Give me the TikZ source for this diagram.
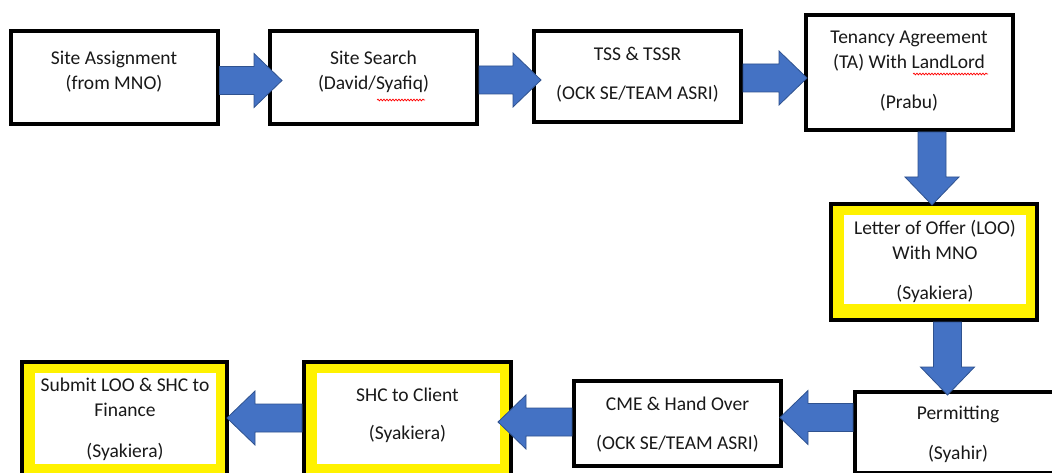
\documentclass[tikz,border=0pt]{standalone}
\usepackage{fontspec}
\setmainfont{Carlito}
\usepackage{xcolor}
\usetikzlibrary{calc, decorations.pathmorphing}

\definecolor{flowblue}{HTML}{4472C4}
\definecolor{flowedge}{HTML}{2F528F}

\tikzset{
  box/.style={draw=black, line width=4pt, minimum width=207pt, inner sep=0pt, fill=white},
  hibox/.style={box, fill=yellow, path picture={\fill[white] ($(path picture bounding box.south west)+(13pt,16pt)$) rectangle ($(path picture bounding box.north east)+(-11pt,-11pt)$);}},
  txt/.style={anchor=north, align=center, inner sep=0pt, text=black!90, font=\fontsize{19.5}{25}\selectfont, execute at begin node=\strut},
  flow/.style={fill=flowblue, draw=flowedge, line width=0.8pt, line join=miter},
  spell/.style={red, line width=0.7pt, decorate, decoration={snake, amplitude=0.9pt, segment length=3pt}}
}

% block arrow from #1 to the tip #2
\newcommand{\fatarrow}[2]{%
  \coordinate (fa-b) at ($(#2)!28pt!(#1)$);
  \filldraw[flow] ($(#1)!14pt!90:(#2)$) -- ($(fa-b)!14pt!-90:(#1)$) -- ($(fa-b)!27pt!-90:(#1)$)
    -- (#2) -- ($(fa-b)!27pt!90:(#1)$) -- ($(fa-b)!14pt!90:(#1)$) -- ($(#1)!14pt!-90:(#2)$) -- cycle;}

\begin{document}
\begin{tikzpicture}[x=1pt, y=-1pt]
    \useasboundingbox (0,0) rectangle (1052,473);
    \clip (0,0) rectangle (1052,473);
    \fill[white] (0,0) rectangle (1052,473);

    % steps
    \node (assign) [box, minimum height=93pt] at (114,78) {};
    \node (search) [box, minimum height=93pt] at (373.5,78) {};
    \node (tss) [box, minimum height=91pt] at (637.5,77) {};
    \node (ta) [box, minimum height=115pt] at (909,72.5) {};
    \node (loo) [hibox, minimum height=116pt, minimum width=206pt] at (934,262) {};
    \node (permit) [box, minimum height=81pt] at (958.5,432.5) {};
    \node (cme) [box, minimum height=85pt] at (677.5,423.5) {};
    \node (shc) [hibox, minimum height=118pt] at (407.5,421) {};
    \node (submit) [hibox, minimum height=118pt, minimum width=205pt] at (124.5,421) {};

    % arrows
    \coordinate (t1) at ($(search.west)+(14,2.5)$);
    \coordinate (t2) at ($(tss.west)+(9,3)$);
    \coordinate (t3) at ($(tss.east)+(64,1)$);
    \coordinate (t4) at ($(loo.north)+(-2,3)$);
    \coordinate (t5) at ($(loo.south)+(13.5,73)$);
    \coordinate (t6) at ($(cme.east)+(-3,-6)$);
    \coordinate (t7) at ($(shc.east)+(-15,1)$);
    \coordinate (t8) at ($(submit.east)+(-2,-3)$);
    \fatarrow{assign.east |- t1}{t1}
    \fatarrow{search.east |- t2}{t2}
    \fatarrow{tss.east |- t3}{t3}
    \fatarrow{ta.south -| t4}{t4}
    \fatarrow{loo.south -| t5}{t5}
    \fatarrow{permit.west |- t6}{t6}
    \fatarrow{cme.west |- t7}{t7}
    \fatarrow{shc.west |- t8}{t8}

    % labels
    \node (assign-t) [txt] at (114,51) {Site Assignment\\(from MNO)};
    \node (search-t) [txt] at (373.5,51) {Site Search\\(David/Syafiq)};
    \node (tss-t) [txt] at (637.5,47) {TSS \& TSSR\\[14pt](OCK SE/TEAM ASRI)};
    \node (ta-t) [txt] at (909,31) {Tenancy Agreement\\(TA) With LandLord\\[15pt](Prabu)};
    \node (loo-t) [txt] at (935,220) {Letter of Offer (LOO)\\With MNO\\[15pt](Syakiera)};
    \node (permit-t) [txt] at (958,406) {Permitting\\[15pt](Syahir)};
    \node (cme-t) [txt] at (677.5,397) {CME \& Hand Over\\[14pt](OCK SE/TEAM ASRI)};
    \node (shc-t) [txt] at (407.5,388) {SHC to Client\\[13pt](Syakiera)};
    \node (submit-t) [txt] at (125,378) {Submit LOO \& SHC to\\Finance\\[16pt](Syakiera)};

    % spelling marks
    \draw[spell] (377,100) -- (425,100);
    \draw[spell] (913,74) -- (988,74);
\end{tikzpicture}
\end{document}
